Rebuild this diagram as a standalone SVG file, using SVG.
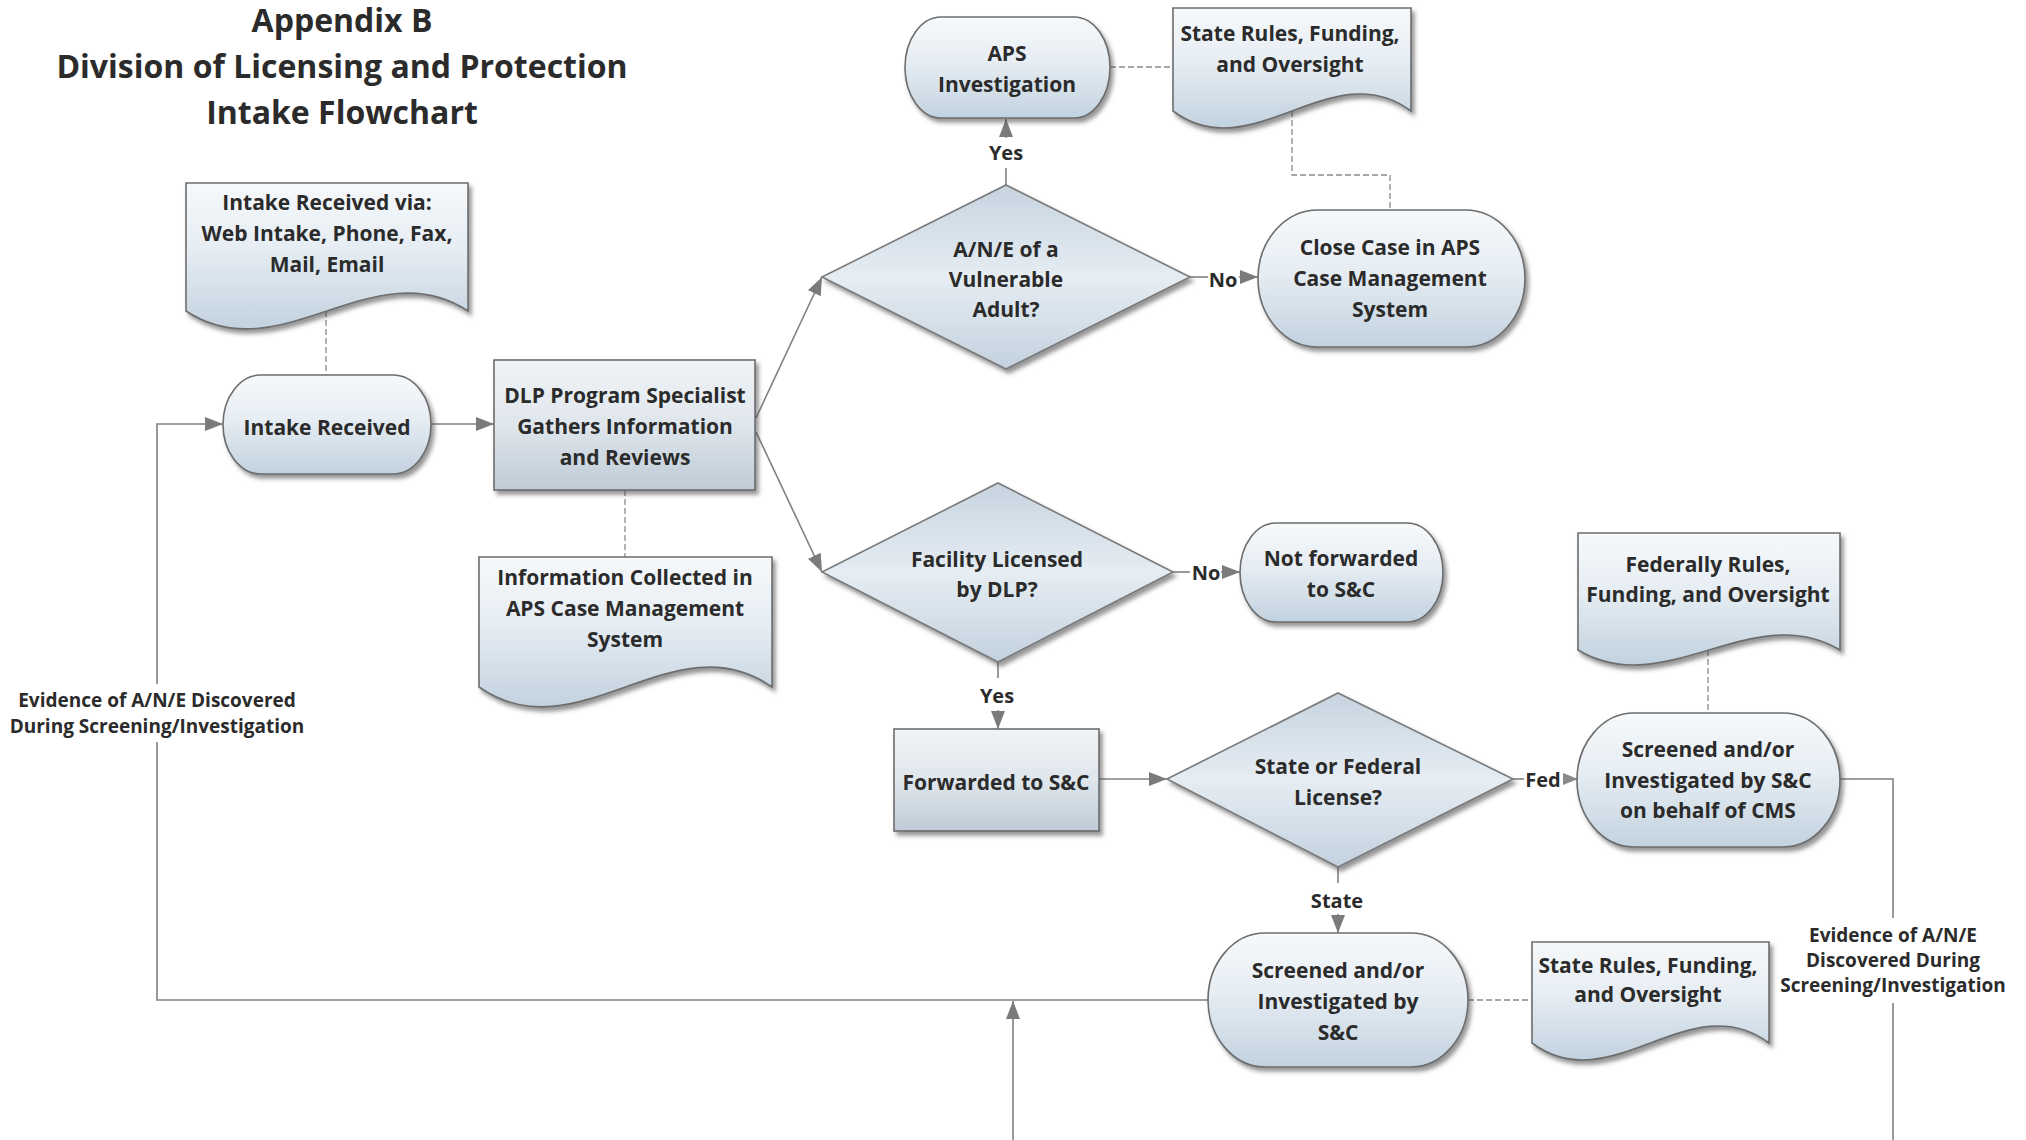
<svg xmlns="http://www.w3.org/2000/svg" width="2026" height="1140" viewBox="0 0 2026 1140">
<defs>
<linearGradient id="gT" x1="0" y1="0" x2="0" y2="1">
<stop offset="0" stop-color="#f6f9fb"/><stop offset="0.45" stop-color="#e6edf3"/><stop offset="1" stop-color="#c2d2df"/>
</linearGradient>
<linearGradient id="gR" x1="0" y1="0" x2="0" y2="1">
<stop offset="0" stop-color="#f1f4f7"/><stop offset="0.5" stop-color="#dfe6ec"/><stop offset="1" stop-color="#bfcbd6"/>
</linearGradient>
<linearGradient id="gD" x1="0" y1="0" x2="0" y2="1">
<stop offset="0" stop-color="#c6d4e0"/><stop offset="0.5" stop-color="#e6edf3"/><stop offset="1" stop-color="#c3d2df"/>
</linearGradient>
<filter id="sh" x="-10%" y="-10%" width="130%" height="130%">
<feDropShadow dx="3" dy="4" stdDeviation="2.2" flood-color="#404040" flood-opacity="0.55"/>
</filter>
<marker id="ar" markerUnits="userSpaceOnUse" markerWidth="18" markerHeight="14" viewBox="0 0 18 14" refX="18" refY="7" orient="auto">
<path d="M0,0 L18,7 L0,14 z" fill="#7b7b7b"/>
</marker>
<marker id="ars" markerUnits="userSpaceOnUse" markerWidth="15" markerHeight="12" viewBox="0 0 15 12" refX="15" refY="6" orient="auto">
<path d="M0,0 L15,6 L0,12 z" fill="#8a8a8a"/>
</marker>
</defs>
<style>
.term{fill:url(#gT);stroke:#6d6d6d;stroke-width:1.6;filter:url(#sh)}
.proc{fill:url(#gR);stroke:#6d6d6d;stroke-width:1.6;filter:url(#sh)}
.dec{fill:url(#gD);stroke:#7a7a7a;stroke-width:1.6;filter:url(#sh)}
.doc{fill:url(#gT);stroke:#6d6d6d;stroke-width:1.6;filter:url(#sh)}
text{font-family:"Open Sans","Liberation Sans",sans-serif;font-weight:bold;fill:#2b2b2b;text-anchor:middle;font-size:21px}
.lbl{font-size:20px}
.sm{font-size:19px}
.title{font-size:32px}
.c{fill:none;stroke:#808080;stroke-width:1.6}
.d{fill:none;stroke:#8a8a8a;stroke-width:1.3;stroke-dasharray:6 3}
</style>
<rect width="2026" height="1140" fill="#ffffff"/>

<g id="title">
<text class="title" x="342" y="32">Appendix B</text>
<text class="title" x="342" y="78">Division of Licensing and Protection</text>
<text class="title" x="342" y="124">Intake Flowchart</text>
</g>

<g id="connectors">
<line class="c" x1="431" y1="424" x2="494" y2="424" marker-end="url(#ar)"/>
<line class="c" x1="756" y1="418" x2="822" y2="277" marker-end="url(#ar)"/>
<line class="c" x1="756" y1="432" x2="822" y2="572" marker-end="url(#ar)"/>
<line class="c" x1="1006" y1="185" x2="1006" y2="168"/>
<line class="c" x1="1006" y1="138" x2="1006" y2="119" marker-end="url(#ar)"/>
<line class="c" x1="1190" y1="277" x2="1208" y2="277"/>
<line class="c" x1="1239" y1="277" x2="1258" y2="277" marker-end="url(#ar)"/>
<line class="c" x1="1173" y1="572" x2="1190" y2="572"/>
<line class="c" x1="1221" y1="572" x2="1240" y2="572" marker-end="url(#ar)"/>
<line class="c" x1="998" y1="662" x2="998" y2="678"/>
<line class="c" x1="998" y1="710" x2="998" y2="729" marker-end="url(#ar)"/>
<line class="c" x1="1099" y1="779" x2="1167" y2="779" marker-end="url(#ar)"/>
<line class="c" x1="1513" y1="779" x2="1524" y2="779"/>
<line class="c" x1="1563" y1="779" x2="1578" y2="779" marker-end="url(#ars)"/>
<line class="c" x1="1338" y1="867" x2="1338" y2="883"/>
<line class="c" x1="1338" y1="914" x2="1338" y2="933" marker-end="url(#ar)"/>
<path class="c" d="M1208,1000 H157 V742"/>
<path class="c" d="M157,684 V424 H223" marker-end="url(#ar)"/>
<line class="c" x1="1013" y1="1140" x2="1013" y2="1001" marker-end="url(#ar)"/>
<path class="c" d="M1840,779 H1893 V918"/>
<line class="c" x1="1893" y1="1003" x2="1893" y2="1140"/>
<line class="d" x1="326" y1="311" x2="326" y2="375"/>
<line class="d" x1="625" y1="490" x2="625" y2="557"/>
<line class="d" x1="1110" y1="67" x2="1173" y2="67"/>
<path class="d" d="M1292,111 V175 H1390 V210"/>
<line class="d" x1="1708" y1="650" x2="1708" y2="713"/>
<line class="d" x1="1468" y1="1000" x2="1532" y2="1000"/>
<text class="lbl" x="1006" y="160">Yes</text>
<text class="lbl" x="1223" y="287">No</text>
<text class="lbl" x="1206" y="580">No</text>
<text class="lbl" x="997" y="703">Yes</text>
<text class="lbl" x="1543" y="787">Fed</text>
<text class="lbl" x="1337" y="908">State</text>
<text class="sm" x="157" y="707">Evidence of A/N/E Discovered</text>
<text class="sm" x="157" y="733">During Screening/Investigation</text>
<text class="sm" x="1893" y="942">Evidence of A/N/E</text>
<text class="sm" x="1893" y="967">Discovered During</text>
<text class="sm" x="1893" y="992">Screening/Investigation</text>
</g>

<g id="intake-via">
<path class="doc" d="M186,183 H468 V311 C374,249 280,373 186,311 Z"/>
<text x="327" y="210">Intake Received via:</text>
<text x="327" y="241">Web Intake, Phone, Fax,</text>
<text x="327" y="272">Mail, Email</text>
</g>

<g id="intake-received">
<rect class="term" x="223" y="375" width="208" height="99" rx="38" ry="49.5"/>
<text x="327" y="435">Intake Received</text>
</g>

<g id="dlp-specialist">
<rect class="proc" x="494" y="360" width="261" height="130"/>
<text x="625" y="403">DLP Program Specialist</text>
<text x="625" y="434">Gathers Information</text>
<text x="625" y="465">and Reviews</text>
</g>

<g id="info-collected">
<path class="doc" d="M479,557 H772 V687 C674,618 577,756 479,687 Z"/>
<text x="625" y="585">Information Collected in</text>
<text x="625" y="616">APS Case Management</text>
<text x="625" y="647">System</text>
</g>

<g id="aps-investigation">
<rect class="term" x="905" y="17" width="205" height="101" rx="36" ry="50.5"/>
<text x="1007" y="61">APS</text>
<text x="1007" y="92">Investigation</text>
</g>

<g id="state-rules-top">
<path class="doc" d="M1173,8 H1411 V111 C1332,52 1252,170 1173,111 Z"/>
<text x="1290" y="41">State Rules, Funding,</text>
<text x="1290" y="72">and Oversight</text>
</g>

<g id="ane-decision">
<polygon class="dec" points="1006,185 1190,277 1006,369 822,277"/>
<text x="1006" y="257">A/N/E of a</text>
<text x="1006" y="287">Vulnerable</text>
<text x="1006" y="317">Adult?</text>
</g>

<g id="close-case">
<rect class="term" x="1258" y="210" width="267" height="137" rx="60" ry="68.5"/>
<text x="1390" y="255">Close Case in APS</text>
<text x="1390" y="286">Case Management</text>
<text x="1390" y="317">System</text>
</g>

<g id="facility-decision">
<polygon class="dec" points="998,483 1173,572 998,662 822,572"/>
<text x="997" y="567">Facility Licensed</text>
<text x="997" y="597">by DLP?</text>
</g>

<g id="not-forwarded">
<rect class="term" x="1240" y="523" width="203" height="99" rx="36" ry="49.5"/>
<text x="1341" y="566">Not forwarded</text>
<text x="1341" y="597">to S&amp;C</text>
</g>

<g id="forwarded">
<rect class="proc" x="894" y="729" width="205" height="102"/>
<text x="996" y="790">Forwarded to S&amp;C</text>
</g>

<g id="state-federal-decision">
<polygon class="dec" points="1338,693 1513,779 1338,867 1167,779"/>
<text x="1338" y="774">State or Federal</text>
<text x="1338" y="805">License?</text>
</g>

<g id="federal-rules">
<path class="doc" d="M1578,533 H1840 V650 C1753,598 1665,702 1578,650 Z"/>
<text x="1708" y="572">Federally Rules,</text>
<text x="1708" y="602">Funding, and Oversight</text>
</g>

<g id="screened-cms">
<rect class="term" x="1577" y="713" width="263" height="134" rx="57" ry="67"/>
<text x="1708" y="757">Screened and/or</text>
<text x="1708" y="788">Investigated by S&amp;C</text>
<text x="1708" y="818">on behalf of CMS</text>
</g>

<g id="screened-sc">
<rect class="term" x="1208" y="933" width="260" height="134" rx="57" ry="67"/>
<text x="1338" y="978">Screened and/or</text>
<text x="1338" y="1009">Investigated by</text>
<text x="1338" y="1040">S&amp;C</text>
</g>

<g id="state-rules-bottom">
<path class="doc" d="M1532,942 H1769 V1043 C1690,984 1611,1102 1532,1043 Z"/>
<text x="1648" y="973">State Rules, Funding,</text>
<text x="1648" y="1002">and Oversight</text>
</g>
</svg>
